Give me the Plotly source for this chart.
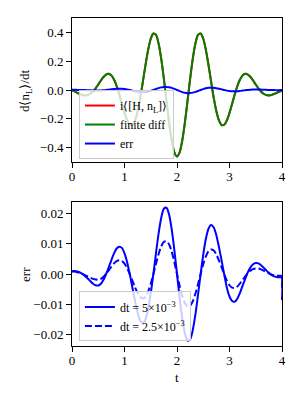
import plotly.graph_objects as go
from plotly.subplots import make_subplots

# time grid (t = 0 .. 4, step 0.05)
t = [round(0.05 * i, 2) for i in range(81)]
t_err = t[:-1] + [3.99, 4.00]

# finite-difference derivative d<n_L>/dt
finite_diff = [
    0.000, -0.010, -0.020, -0.028, -0.035, -0.038, -0.035, -0.026, -0.010, 0.012,
    0.038, 0.066, 0.091, 0.108, 0.113, 0.102, 0.073, 0.028, -0.031, -0.096,
    -0.160, -0.212, -0.243, -0.245, -0.213, -0.148, -0.055, 0.058, 0.174, 0.280,
    0.358, 0.395, 0.385, 0.323, 0.217, 0.077, -0.078, -0.228, -0.353, -0.436,
    -0.465, -0.436, -0.353, -0.228, -0.078, 0.077, 0.217, 0.323, 0.385, 0.395,
    0.358, 0.280, 0.174, 0.058, -0.055, -0.148, -0.213, -0.245, -0.243, -0.212,
    -0.160, -0.096, -0.031, 0.028, 0.073, 0.102, 0.113, 0.108, 0.091, 0.066,
    0.038, 0.012, -0.010, -0.026, -0.035, -0.038, -0.035, -0.028, -0.020, -0.011,
    -0.005,
]
# exact commutator expectation i<[H, n_L]> (overlaps the finite difference)
commutator = list(finite_diff)

# error for dt = 5e-3
err_5e3 = [
    0.0009, 0.0010, 0.0008, 0.0005, 0.0000, -0.0007, -0.0015, -0.0024, -0.0032, -0.0037,
    -0.0038, -0.0032, -0.0019, 0.0000, 0.0022, 0.0046, 0.0068, 0.0084, 0.0090, 0.0086,
    0.0068, 0.0039, 0.0000, -0.0044, -0.0088, -0.0127, -0.0153, -0.0162, -0.0149, -0.0116,
    -0.0064, 0.0000, 0.0069, 0.0134, 0.0185, 0.0215, 0.0218, 0.0195, 0.0146, 0.0078,
    0.0000, -0.0078, -0.0146, -0.0195, -0.0219, -0.0215, -0.0185, -0.0134, -0.0069, 0.0000,
    0.0064, 0.0116, 0.0149, 0.0161, 0.0153, 0.0127, 0.0088, 0.0044, -0.0002, -0.0045,
    -0.0074, -0.0089, -0.0091, -0.0081, -0.0062, -0.0038, -0.0016, 0.0006, 0.0022, 0.0032,
    0.0036, 0.0035, 0.0029, 0.0021, 0.0012, 0.0004, -0.0003, -0.0008, -0.0010, -0.0011,
    -0.0011, -0.0086,
]
# error for dt = 2.5e-3
err_2p5e3 = [
    0.0008, 0.0008, 0.0006, 0.0003, 0.0000, -0.0004, -0.0008, -0.0012, -0.0016, -0.0018,
    -0.0019, -0.0016, -0.0009, 0.0001, 0.0012, 0.0024, 0.0035, 0.0042, 0.0045, 0.0043,
    0.0034, 0.0019, 0.0000, -0.0022, -0.0044, -0.0063, -0.0076, -0.0081, -0.0075, -0.0058,
    -0.0032, 0.0000, 0.0034, 0.0066, 0.0091, 0.0106, 0.0108, 0.0097, 0.0073, 0.0039,
    0.0000, -0.0039, -0.0072, -0.0096, -0.0106, -0.0104, -0.0090, -0.0065, -0.0034, 0.0000,
    0.0032, 0.0058, 0.0075, 0.0081, 0.0077, 0.0064, 0.0044, 0.0022, -0.0001, -0.0022,
    -0.0037, -0.0045, -0.0046, -0.0041, -0.0031, -0.0019, -0.0008, 0.0003, 0.0011, 0.0016,
    0.0018, 0.0018, 0.0015, 0.0011, 0.0006, 0.0002, -0.0002, -0.0004, -0.0005, -0.0006,
    -0.0006, -0.0045,
]

x_ticks = [0, 1, 2, 3, 4]
top_yticks = [-0.4, -0.2, 0.0, 0.2, 0.4]
bot_yticks = [-0.02, -0.01, 0.0, 0.01, 0.02]

FONT = "Liberation Serif, Times New Roman, serif"
FS = 13
LFS = 12

fig = make_subplots(rows=2, cols=1, vertical_spacing=0.1)

line_kw = dict(shape="spline", smoothing=0.8, width=2)

fig.add_trace(go.Scatter(x=t, y=commutator, mode="lines", name="i⟨[H, n<sub>L</sub>]⟩",
                         line=dict(color="#ff0000", **line_kw), legend="legend"), row=1, col=1)
fig.add_trace(go.Scatter(x=t, y=finite_diff, mode="lines", name="finite diff",
                         line=dict(color="#008000", **line_kw), legend="legend"), row=1, col=1)
fig.add_trace(go.Scatter(x=t_err, y=err_5e3, mode="lines", name="err",
                         line=dict(color="#0000ff", **line_kw), legend="legend"), row=1, col=1)

fig.add_trace(go.Scatter(x=t_err, y=err_5e3, mode="lines", name="dt = 5×10<sup>−3</sup>",
                         line=dict(color="#0000ff", **line_kw), legend="legend2"), row=2, col=1)
fig.add_trace(go.Scatter(x=t_err, y=err_2p5e3, mode="lines", name="dt = 2.5×10<sup>−3</sup>",
                         line=dict(color="#0000ff", dash="7px,3px", **line_kw), legend="legend2"), row=2, col=1)

axis_common = dict(showline=True, linecolor="black", linewidth=1, mirror=True,
                   ticks="outside", ticklen=5, tickwidth=1, tickcolor="black",
                   showgrid=False, zeroline=False, automargin=False,
                   tickfont=dict(family=FONT, size=FS, color="black"))

fig.update_xaxes(range=[0, 4], tickvals=x_ticks, ticktext=[str(v) for v in x_ticks],
                 ticklabelstandoff=-3, **axis_common)
fig.update_yaxes(range=[-0.503, 0.503], tickvals=top_yticks, tickformat=".1f", row=1, col=1, **axis_common)
fig.update_yaxes(range=[-0.0237, 0.0237], tickvals=bot_yticks, tickformat=".2f", row=2, col=1, **axis_common)

title_font = dict(family=FONT, size=FS, color="black")
fig.add_annotation(text="d⟨n<sub>L</sub>⟩/dt", xref="paper", yref="paper", x=-0.224, y=0.780,
                   xanchor="center", yanchor="middle", textangle=-90, showarrow=False, font=title_font)
fig.add_annotation(text="err", xref="paper", yref="paper", x=-0.224, y=0.2195,
                   xanchor="center", yanchor="middle", textangle=-90, showarrow=False, font=title_font)
fig.add_annotation(text="t", xref="paper", yref="paper", x=0.5, y=-0.097,
                   xanchor="center", yanchor="middle", showarrow=False, font=title_font)

fig.update_layout(
    xaxis=dict(domain=[0, 1]),
    xaxis2=dict(domain=[0, 1]),
    yaxis=dict(domain=[0.561, 1.0]),
    yaxis2=dict(domain=[0.0, 0.439]),
    width=300, height=400,
    margin=dict(l=72, r=18, t=18, b=54, autoexpand=False),
    paper_bgcolor="white", plot_bgcolor="white",
    font=dict(family=FONT, size=FS, color="black"),
    legend=dict(x=0.033, y=0.570, xanchor="left", yanchor="bottom",
                bgcolor="rgba(255,255,255,0.8)", bordercolor="#cccccc", borderwidth=1,
                font=dict(family=FONT, size=LFS, color="black"), tracegroupgap=0),
    legend2=dict(x=0.033, y=0.014, xanchor="left", yanchor="bottom",
                 bgcolor="rgba(255,255,255,0.8)", bordercolor="#cccccc", borderwidth=1,
                 font=dict(family=FONT, size=LFS, color="black"), tracegroupgap=0),
    showlegend=True,
)

fig.write_html("out.html", config={"displayModeBar": False},
               post_script="document.body.style.margin='0';document.body.style.overflow='hidden';")
